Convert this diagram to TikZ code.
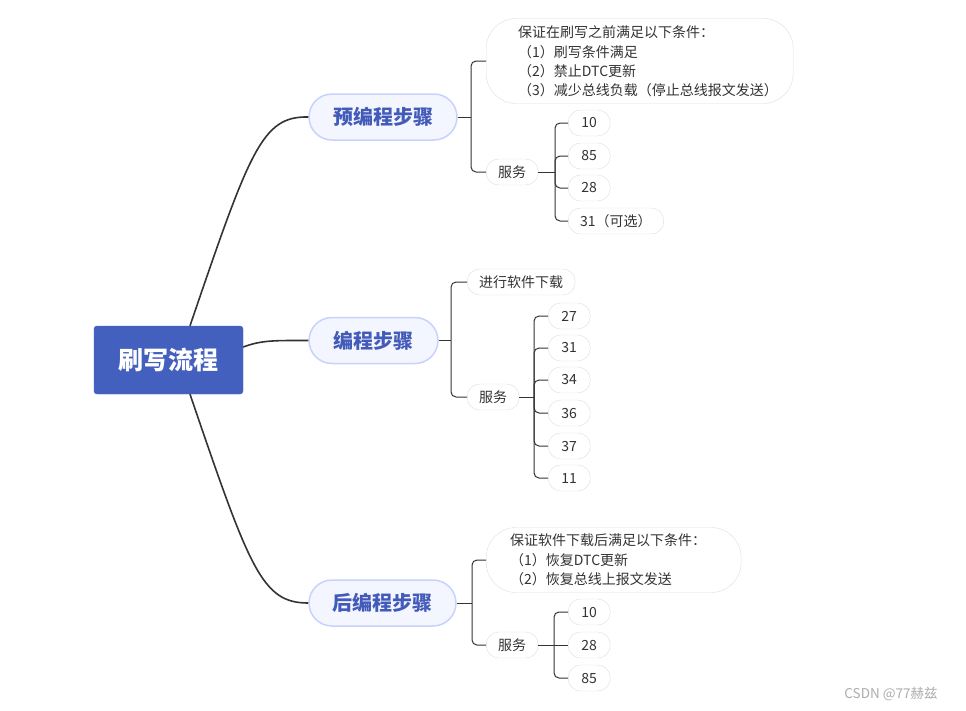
\documentclass[tikz,border=0pt]{standalone}
\usepackage{fontspec}
\setmainfont{Noto Sans CJK SC}
\usepackage{tikz}
\usetikzlibrary{calc}

\definecolor{rootblue}{RGB}{67,96,190}
\definecolor{stagefill}{RGB}{243,245,255}
\definecolor{stageline}{RGB}{200,210,250}
\definecolor{stagetext}{RGB}{66,90,184}
\definecolor{leafline}{RGB}{222,222,222}
\definecolor{inkgray}{RGB}{51,51,51}

\tikzset{
	rootbox/.style={draw=rootblue, fill=rootblue, rounded corners=3pt, text=white,
		minimum width=149pt, minimum height=68pt, font=\fontsize{25}{29}\selectfont\bfseries},
	stagebox/.style={draw=stageline, fill=stagefill, line width=1.5pt, rounded corners=23pt,
		minimum height=46pt, text=stagetext, font=\fontsize{20}{23}\selectfont\bfseries},
	leafbox/.style={draw=leafline, fill=white, rounded corners=12.5pt, text=inkgray,
		minimum width=42pt, minimum height=26pt, inner xsep=12pt, anchor=west,
		font=\fontsize{14}{16}\selectfont},
	notebox/.style={draw=leafline, fill=white, rounded corners=30pt, anchor=west},
	notetext/.style={text=inkgray, align=left, anchor=west, inner sep=0pt,
		font=\fontsize{14}{19.3}\selectfont},
	trunk/.style={draw=inkgray, line width=1.6pt},
	branch/.style={draw=inkgray, line width=1pt, rounded corners=5pt}
}

\begin{document}
\begin{tikzpicture}[x=1pt, y=-1pt]
	\useasboundingbox (0,0) rectangle (966,710);
	
	% root and the three stages
	\node[rootbox] (flash) at (168.5,360) {刷写流程};
	\node[stagebox, minimum width=148pt] (pre) at (383,117) {预编程步骤};
	\node[stagebox, minimum width=129pt] (prog) at (373.5,340.5) {编程步骤};
	\node[stagebox, minimum width=147pt] (post) at (382.5,603) {后编程步骤};
	
	% root to stages
	\draw[trunk] (flash.north) ++(21.5,0) coordinate (flashN)
	.. controls (250,150) and (262,116) .. (pre.west);
	\draw[trunk] (flash.east) ++(0,-13) coordinate (flashE)
	.. controls (262,340) and (275,340.5) .. (prog.west);
	\draw[trunk] (flash.south) ++(21.5,0) coordinate (flashS)
	.. controls (250,570) and (262,603) .. (post.west);
	
	% pre-programming
	\coordinate (preJ) at (471,117);
	\node[notebox, minimum width=307pt, minimum height=85pt] (preNote) at (486,61) {};
	\node[notetext] (preNoteTxt) at (518,61.5)
	{保证在刷写之前满足以下条件：\\
		（1）刷写条件满足\\
		（2）禁止DTC更新\\
		（3）减少总线负载（停止总线报文发送）};
	\node[leafbox] (preSrv) at (486,172) {服务};
	\draw[branch] (pre.east) -- (preJ);
	\draw[branch] (preJ) |- (preNote.west);
	\draw[branch] (preJ) |- (preSrv.west);
	
	\coordinate (preSrvJ) at (555,172);
	\node[leafbox] (pre10) at (568,123) {10};
	\node[leafbox] (pre85) at (568,156) {85};
	\node[leafbox] (pre28) at (568,188) {28};
	\node[leafbox] (pre31) at (568,221) {31（可选）};
	\draw[branch] (preSrv.east) -- (preSrvJ);
	\draw[branch] (preSrvJ) |- (pre10.west);
	\draw[branch] (preSrvJ) |- (pre85.west);
	\draw[branch] (preSrvJ) |- (pre28.west);
	\draw[branch] (preSrvJ) |- (pre31.west);
	
	% programming
	\coordinate (progJ) at (451,340.5);
	\node[leafbox] (progLoad) at (467,282) {进行软件下载};
	\node[leafbox] (progSrv) at (467,397) {服务};
	\draw[branch] (prog.east) -- (progJ);
	\draw[branch] (progJ) |- (progLoad.west);
	\draw[branch] (progJ) |- (progSrv.west);
	
	\coordinate (progSrvJ) at (534,397);
	\node[leafbox] (prog27) at (548,316) {27};
	\node[leafbox] (prog31) at (548,348) {31};
	\node[leafbox] (prog34) at (548,380) {34};
	\node[leafbox] (prog36) at (548,413) {36};
	\node[leafbox] (prog37) at (548,446) {37};
	\node[leafbox] (prog11) at (548,478) {11};
	\draw[branch] (progSrv.east) -- (progSrvJ);
	\draw[branch] (progSrvJ) |- (prog27.west);
	\draw[branch] (progSrvJ) |- (prog31.west);
	\draw[branch] (progSrvJ) |- (prog34.west);
	\draw[branch] (progSrvJ) |- (prog36.west);
	\draw[branch] (progSrvJ) |- (prog37.west);
	\draw[branch] (progSrvJ) |- (prog11.west);
	
	% post-programming
	\coordinate (postJ) at (472,603);
	\node[notebox, minimum width=255pt, minimum height=65pt] (postNote) at (486,560) {};
	\node[notetext] (postNoteTxt) at (510,560)
	{保证软件下载后满足以下条件：\\
		（1）恢复DTC更新\\
		（2）恢复总线上报文发送};
	\node[leafbox] (postSrv) at (486,645) {服务};
	\draw[branch] (post.east) -- (postJ);
	\draw[branch] (postJ) |- (postNote.west);
	\draw[branch] (postJ) |- (postSrv.west);
	
	\coordinate (postSrvJ) at (554,645);
	\node[leafbox] (post10) at (568,612) {10};
	\node[leafbox] (post28) at (568,645) {28};
	\node[leafbox] (post85) at (568,678) {85};
	\draw[branch] (postSrv.east) -- (postSrvJ);
	\draw[branch] (postSrvJ) |- (post10.west);
	\draw[branch] (postSrvJ) -- (post28.west);
	\draw[branch] (postSrvJ) |- (post85.west);
	
	% watermark
	\node[text=gray!65, font=\fontsize{13.5}{15}\selectfont] (mark) at (891,694) {CSDN @77赫兹};
\end{tikzpicture}
\end{document}
